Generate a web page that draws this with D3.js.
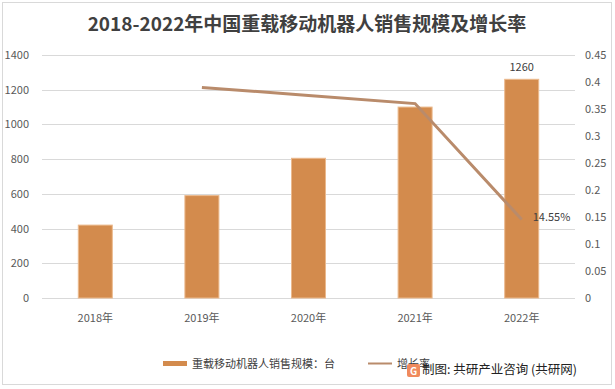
<!DOCTYPE html>
<html>
<head>
<meta charset="utf-8">
<script src="https://cdn.jsdelivr.net/npm/d3@7"></script>
<style>
  body { margin: 0; background: #fff; }
  text { font-family: "Noto Sans CJK SC", "Open Sans", sans-serif; }
</style>
</head>
<body>
<script>
// data
var years = ["2018年", "2019年", "2020年", "2021年", "2022年"];
var sales = [420, 590, 805, 1100, 1260];
var rates = [null, 0.39, 0.375, 0.36, 0.1455];
var leftTicks = [0, 200, 400, 600, 800, 1000, 1200, 1400];
var rightTicks = [0, 0.05, 0.1, 0.15, 0.2, 0.25, 0.3, 0.35, 0.4, 0.45];

var w = 615, h = 389;
var plotLeft = 42, plotRight = 575, plotTop = 55, plotBottom = 298;

var svg = d3.select("body").append("svg")
    .attr("width", w)
    .attr("height", h);

svg.append("rect")
    .attr("x", 2.5).attr("y", 2.5)
    .attr("width", w - 6).attr("height", h - 7)
    .attr("fill", "#fff")
    .attr("stroke", "#d9d9d9");

var x = d3.scaleBand().domain(years).range([plotLeft, plotRight]);
var yL = d3.scaleLinear().domain([0, 1400]).range([plotBottom, plotTop]);
var yR = d3.scaleLinear().domain([0, 0.45]).range([plotBottom, plotTop]);

// title
svg.append("text")
    .attr("x", 307).attr("y", 31)
    .attr("text-anchor", "middle")
    .attr("font-size", 19).attr("font-weight", "bold")
    .attr("fill", "#404040")
    .text("2018-2022年中国重载移动机器人销售规模及增长率");

// grid
svg.selectAll(".grid")
    .data(leftTicks)
    .enter().append("line")
    .attr("x1", plotLeft).attr("x2", plotRight)
    .attr("y1", d => Math.round(yL(d)) + 0.5).attr("y2", d => Math.round(yL(d)) + 0.5)
    .attr("stroke", "#d9d9d9");

// left axis labels
svg.selectAll(".lt")
    .data(leftTicks)
    .enter().append("text")
    .attr("x", 29).attr("y", d => yL(d) + 4)
    .attr("text-anchor", "end")
    .attr("font-size", 11).attr("fill", "#595959")
    .text(d => d);

// right axis labels
svg.selectAll(".rt")
    .data(rightTicks)
    .enter().append("text")
    .attr("x", 585).attr("y", d => yR(d) + 4)
    .attr("font-size", 11).attr("fill", "#595959")
    .text(d => d);

// x labels
svg.selectAll(".xl")
    .data(years)
    .enter().append("text")
    .attr("x", d => x(d) + x.bandwidth() / 2)
    .attr("y", 322)
    .attr("text-anchor", "middle")
    .attr("font-size", 11).attr("fill", "#595959")
    .text(d => d);

// bars
var bw = 34;
svg.selectAll(".bar")
    .data(sales)
    .enter().append("rect")
    .attr("x", (d, i) => x(years[i]) + x.bandwidth() / 2 - bw / 2)
    .attr("y", d => yL(d))
    .attr("width", bw)
    .attr("height", d => plotBottom - yL(d))
    .attr("fill", "#d38b4d")
    .attr("stroke", "#ebb98d")
    .attr("stroke-width", 1);

// label on last bar
svg.append("text")
    .attr("x", x(years[4]) + x.bandwidth() / 2)
    .attr("y", yL(sales[4]) - 8)
    .attr("text-anchor", "middle")
    .attr("font-size", 11).attr("fill", "#404040")
    .text(sales[4]);

// growth line
var line = d3.line()
    .defined(d => d != null)
    .x((d, i) => x(years[i]) + x.bandwidth() / 2)
    .y(d => yR(d));

svg.append("path")
    .datum(rates)
    .attr("d", line)
    .attr("fill", "none")
    .attr("stroke", "#b98b6b")
    .attr("stroke-width", 3);

svg.append("text")
    .attr("x", x(years[4]) + x.bandwidth() / 2 + 11)
    .attr("y", yR(rates[4]) + 2)
    .attr("font-size", 11).attr("fill", "#404040")
    .text((rates[4] * 100).toFixed(2) + "%");

// legend
svg.append("rect")
    .attr("x", 163).attr("y", 361)
    .attr("width", 24).attr("height", 5)
    .attr("fill", "#d38b4d");
svg.append("text")
    .attr("x", 192).attr("y", 368)
    .attr("font-size", 11).attr("fill", "#404040")
    .text("重载移动机器人销售规模：台");

svg.append("line")
    .attr("x1", 368).attr("x2", 392)
    .attr("y1", 363.5).attr("y2", 363.5)
    .attr("stroke", "#b98b6b").attr("stroke-width", 2);
svg.append("text")
    .attr("x", 397).attr("y", 368)
    .attr("font-size", 11).attr("fill", "#404040")
    .text("增长率");

// source note with logo
svg.append("rect")
    .attr("x", 407).attr("y", 364)
    .attr("width", 13).attr("height", 13)
    .attr("rx", 2)
    .attr("fill", "#f08a5d");
svg.append("text")
    .attr("x", 410).attr("y", 375)
    .attr("font-size", 10).attr("font-weight", "bold").attr("fill", "#fff")
    .text("G");
svg.append("text")
    .attr("x", 422).attr("y", 374)
    .attr("font-size", 12.5).attr("fill", "#222")
    .text("制图: 共研产业咨询 (共研网)");
</script>
</body>
</html>
